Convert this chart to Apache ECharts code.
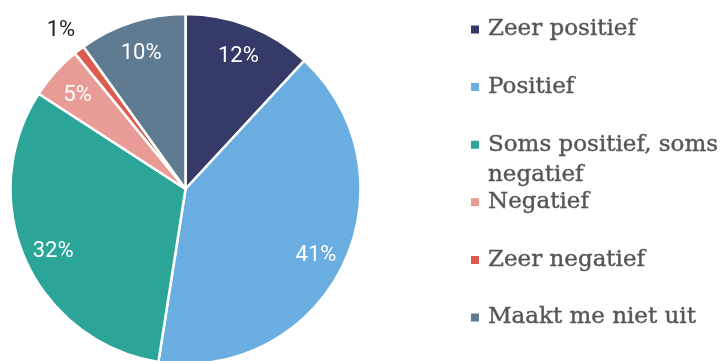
<!DOCTYPE html>
<html>
<head>
<meta charset="utf-8">
<script src="https://cdn.jsdelivr.net/npm/echarts@6/dist/echarts.min.js"></script>
<style>
  html, body { margin: 0; padding: 0; background: #fff; }
  #chart { width: 725px; height: 361px; }
</style>
</head>
<body>
<div id="chart"></div>
<script>
// Survey answers and their shares (percent)
const categories = ['Zeer positief', 'Positief', 'Soms positief, soms negatief', 'Negatief', 'Zeer negatief', 'Maakt me niet uit'];
const percentages = [12, 41, 32, 5, 1, 10];
// the empty first line keeps the icon level with the first line of a wrapped label
const legendLabels = ['Zeer positief', 'Positief', '\nSoms positief, soms\nnegatief', 'Negatief', 'Zeer negatief', 'Maakt me niet uit'];
const sliceColors = ['#363a69', '#6aade0', '#2aa597', '#e99c96', '#dc5a4e', '#5f7b91'];

const CENTER = [185.5, 189];
const RADIUS = 175;
const LEGEND_FONT = {
  fontFamily: 'DejaVu Serif', fontSize: 23, color: '#555555', lineHeight: 30,
  textBorderColor: '#555555', textBorderWidth: 0.4, padding: [0, 0, 0, 3]
};

const sliceData = categories.map((name, i) => ({
  name, value: percentages[i], itemStyle: { color: sliceColors[i] }
}));

// transparent ring that only carries the percentage labels, so they sit near the rim
const labelData = categories.map((name, i) => {
  const item = { name, value: percentages[i] };
  if (percentages[i] < 2) {
    item.label = { position: 'outside', color: '#222', distanceToLabelLine: 0 };
    item.labelLine = { show: false, length: 28, length2: -13 };
  }
  return item;
});

// one legend block per answer, stacked down the right side
const legends = categories.map((name, i) => {
  const lines = legendLabels[i].split('\n').length;
  const iconCenter = 29.5 + i * 57.6;
  return {
    orient: 'vertical',
    left: 469,
    top: iconCenter - lines * 15,
    padding: 0,
    itemGap: 0,
    itemWidth: 10,
    itemHeight: 10,
    icon: 'rect',
    selectedMode: false,
    data: [name],
    formatter: () => legendLabels[i],
    textStyle: LEGEND_FONT
  };
});

const chart = echarts.init(document.getElementById('chart'), null, { renderer: 'canvas' });
chart.setOption({
  animation: false,
  backgroundColor: '#fff',
  legend: legends,
  series: [
    {
      type: 'pie',
      center: CENTER,
      radius: RADIUS,
      startAngle: 90,
      clockwise: true,
      silent: true,
      label: { show: false },
      labelLine: { show: false },
      itemStyle: { borderColor: '#fff', borderWidth: 2.5 },
      data: sliceData
    },
    {
      type: 'pie',
      center: CENTER,
      radius: [109, RADIUS],
      startAngle: 90,
      clockwise: true,
      silent: true,
      avoidLabelOverlap: false,
      itemStyle: { color: 'rgba(0,0,0,0)', borderWidth: 0 },
      label: {
        show: true,
        position: 'inside',
        formatter: '{c}%',
        color: '#fff',
        fontFamily: 'Roboto',
        fontSize: 22
      },
      labelLayout: { dy: 3 },
      labelLine: { show: false },
      data: labelData
    }
  ]
});
</script>
</body>
</html>
